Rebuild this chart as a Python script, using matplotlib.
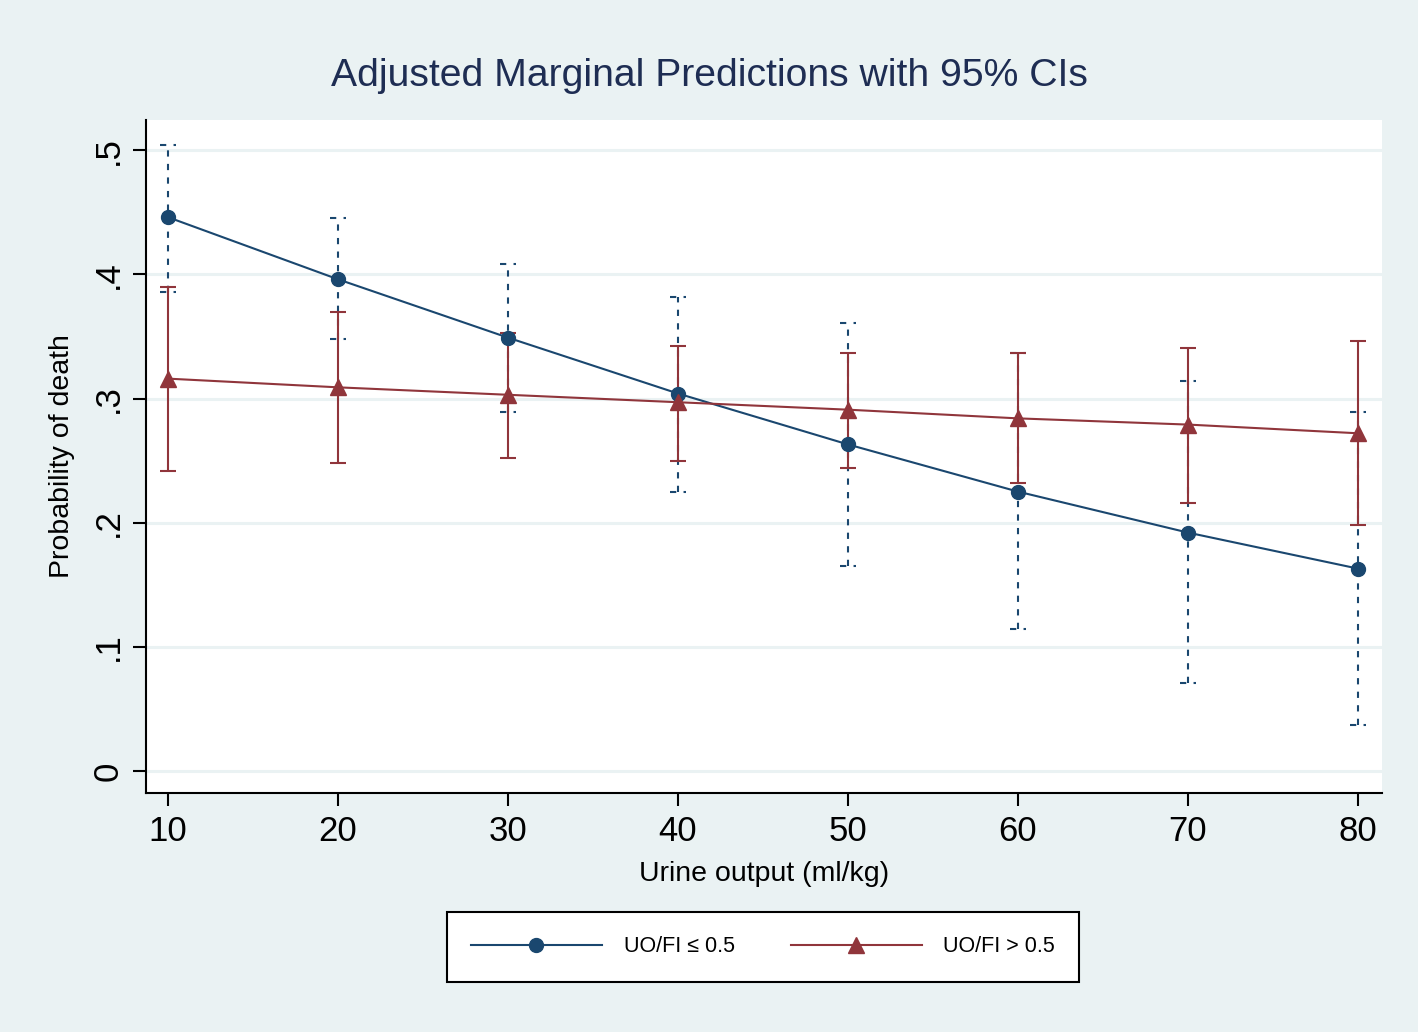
import numpy as np
import matplotlib
matplotlib.use('Agg')
import matplotlib.pyplot as plt
from matplotlib.lines import Line2D

# values
urine = [10, 20, 30, 40, 50, 60, 70, 80]

low_pred = [0.446, 0.396, 0.349, 0.304, 0.263, 0.225, 0.192, 0.163]
low_lo = [0.386, 0.348, 0.289, 0.225, 0.165, 0.114, 0.071, 0.037]
low_hi = [0.504, 0.445, 0.408, 0.382, 0.361, 0.337, 0.314, 0.289]

high_pred = [0.316, 0.309, 0.303, 0.297, 0.291, 0.284, 0.279, 0.272]
high_lo = [0.242, 0.248, 0.252, 0.250, 0.244, 0.232, 0.216, 0.198]
high_hi = [0.390, 0.370, 0.353, 0.342, 0.337, 0.337, 0.341, 0.346]

yticks = [0, 0.1, 0.2, 0.3, 0.4, 0.5]
ytick_labels = ['0', '.1', '.2', '.3', '.4', '.5']

label_low = 'UO/FI \u2264 0.5'
label_high = 'UO/FI > 0.5'

blue = '#1A476F'
red = '#90353B'
bg = '#EAF2F3'

plt.rcParams['font.family'] = ['Liberation Sans', 'DejaVu Sans']

fig = plt.figure(figsize=(14.18, 10.32), dpi=100, facecolor=bg)
ax = fig.add_axes([0.103, 0.2316, 0.8716, 0.652])
ax.set_facecolor('white')

ax.set_xlim(8.706, 81.41)
ax.set_ylim(-0.0177, 0.5242)

for y in yticks:
    ax.axhline(y, color=bg, lw=2.2, zorder=0)

x = np.array(urine)
capw = 0.45

# blue CI: dashed vertical lines and dashed caps
ax.vlines(x, low_lo, low_hi, colors=blue, lw=1.5, linestyles=(0, (3, 3.5)), zorder=2)
ax.hlines(low_lo, x - capw, x + capw, colors=blue, lw=1.5, linestyles=(0, (3, 3.5)), zorder=2)
ax.hlines(low_hi, x - capw, x + capw, colors=blue, lw=1.5, linestyles=(0, (3, 3.5)), zorder=2)

# red CI: solid
ax.vlines(x, high_lo, high_hi, colors=red, lw=1.5, zorder=2)
ax.hlines(high_lo, x - capw, x + capw, colors=red, lw=1.5, zorder=2)
ax.hlines(high_hi, x - capw, x + capw, colors=red, lw=1.5, zorder=2)

ax.plot(x, low_pred, color=blue, lw=1.5, marker='o', markersize=10, zorder=3)
ax.plot(x, high_pred, color=red, lw=1.5, marker='^', markersize=11, zorder=3)

ax.set_xticks(urine)
ax.set_yticks(yticks)
ax.set_yticklabels(ytick_labels, rotation=90, va='center')
ax.tick_params(axis='both', labelsize=25, length=9.5, width=1.5, colors='black', pad=6)

for side in ['top', 'right']:
    ax.spines[side].set_visible(False)
for side in ['left', 'bottom']:
    ax.spines[side].set_linewidth(1.5)

ax.set_xlabel('Urine output (ml/kg)', fontsize=20.5, labelpad=10)
ax.set_ylabel('Probability of death', fontsize=20.5, labelpad=12)

fig.text(0.5, 1 - 76 / 1032, 'Adjusted Marginal Predictions with 95% CIs',
         fontsize=28.2, color='#1E2D53', ha='center', va='center')

handles = [Line2D([], [], color=blue, lw=1.5, marker='o', markersize=10),
           Line2D([], [], color=red, lw=1.5, marker='^', markersize=11)]
leg = fig.legend(handles, [label_low, label_high], ncol=2, loc='center',
                 bbox_to_anchor=(763 / 1418, 1 - 947 / 1032), fontsize=15.5,
                 frameon=True, fancybox=False, edgecolor='black', framealpha=1,
                 handlelength=6.1, columnspacing=2.6, handletextpad=1.0,
                 borderpad=1.12, borderaxespad=0)
leg.get_frame().set_linewidth(1.5)

fig.savefig('out.png', dpi=100, facecolor=bg)
